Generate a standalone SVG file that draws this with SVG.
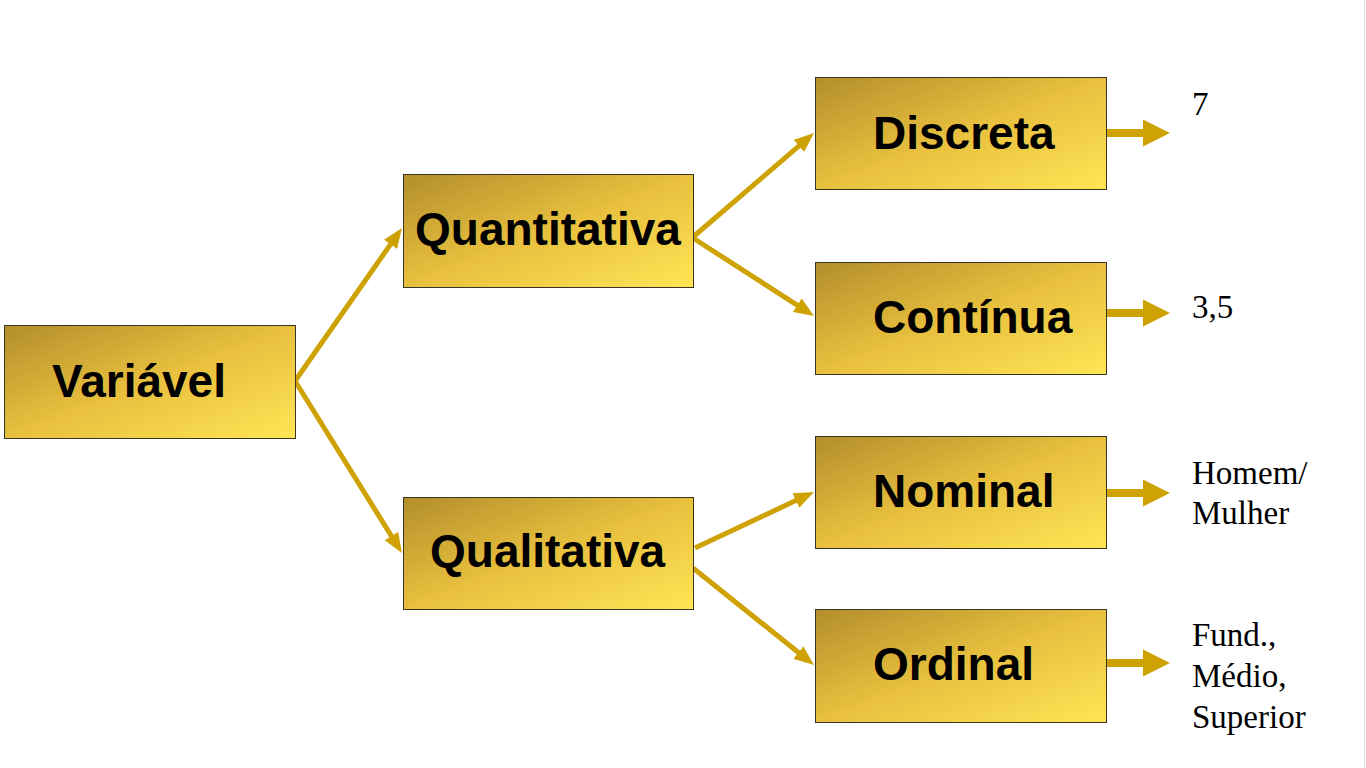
<svg xmlns="http://www.w3.org/2000/svg" width="1366" height="768" viewBox="0 0 1366 768">
  <defs>
    <linearGradient id="gold" x1="0" y1="0" x2="1" y2="1">
      <stop offset="0" stop-color="#b38e2c"/>
      <stop offset="0.5" stop-color="#e8c03e"/>
      <stop offset="1" stop-color="#ffe556"/>
    </linearGradient>
    <marker id="head" markerUnits="userSpaceOnUse" markerWidth="20" markerHeight="16" viewBox="0 0 20 16" refX="4" refY="8" orient="auto">
      <path d="M0,0 L20,8 L0,16 z" fill="#cfa203"/>
    </marker>
    <path id="blockArrow" d="M0,-4 H37 V-13.5 L64,0 L37,13.5 V4 H0 z" fill="#cfa203"/>
  </defs>
  <style>
    .box { fill: url(#gold); stroke: #3a3422; stroke-width: 1; }
    .lbl { font-family: "Liberation Sans", Arial, sans-serif; font-weight: bold; font-size: 46px; fill: #000; }
    .val { font-family: "Liberation Serif", "Times New Roman", serif; font-size: 33px; fill: #000; }
    .conn { stroke: #cfa203; stroke-width: 5; fill: none; marker-end: url(#head); }
  </style>
  <rect width="1366" height="768" fill="#ffffff"/>
  <line x1="1364.5" y1="0" x2="1364.5" y2="768" stroke="#dcdcdc" stroke-width="1"/>

  <g id="connectors">
    <line class="conn" x1="295" y1="381" x2="392.8" y2="241.1"/>
    <line class="conn" x1="295" y1="381" x2="393.5" y2="539.4"/>
    <line class="conn" x1="693" y1="237" x2="801.9" y2="143.4"/>
    <line class="conn" x1="693" y1="238" x2="800.6" y2="307.3"/>
    <line class="conn" x1="695" y1="548" x2="799.5" y2="498.8"/>
    <line class="conn" x1="693" y1="568" x2="801.5" y2="655"/>
    <use href="#blockArrow" x="1106" y="133"/>
    <use href="#blockArrow" x="1106" y="313"/>
    <use href="#blockArrow" x="1106" y="493"/>
    <use href="#blockArrow" x="1106" y="663"/>
  </g>

  <g id="variavel">
    <rect class="box" x="4.5" y="325.5" width="291" height="113"/>
    <text class="lbl" x="52" y="397">Variável</text>
  </g>
  <g id="quantitativa">
    <rect class="box" x="403.5" y="174.5" width="290" height="113"/>
    <text class="lbl" x="415" y="245">Quantitativa</text>
  </g>
  <g id="qualitativa">
    <rect class="box" x="403.5" y="497.5" width="290" height="112"/>
    <text class="lbl" x="430" y="567">Qualitativa</text>
  </g>
  <g id="discreta">
    <rect class="box" x="815.5" y="77.5" width="291" height="112"/>
    <text class="lbl" x="873" y="149">Discreta</text>
  </g>
  <g id="continua">
    <rect class="box" x="815.5" y="262.5" width="291" height="112"/>
    <text class="lbl" x="873" y="333">Contínua</text>
  </g>
  <g id="nominal">
    <rect class="box" x="815.5" y="436.5" width="291" height="112"/>
    <text class="lbl" x="873" y="507">Nominal</text>
  </g>
  <g id="ordinal">
    <rect class="box" x="815.5" y="609.5" width="291" height="113"/>
    <text class="lbl" x="873" y="680">Ordinal</text>
  </g>

  <g id="examples">
    <text class="val" x="1192" y="115">7</text>
    <text class="val" x="1192" y="318">3,5</text>
    <text class="val" x="1192" y="484">Homem/</text>
    <text class="val" x="1192" y="524">Mulher</text>
    <text class="val" x="1192" y="646">Fund.,</text>
    <text class="val" x="1192" y="687">Médio,</text>
    <text class="val" x="1192" y="728">Superior</text>
  </g>
</svg>
